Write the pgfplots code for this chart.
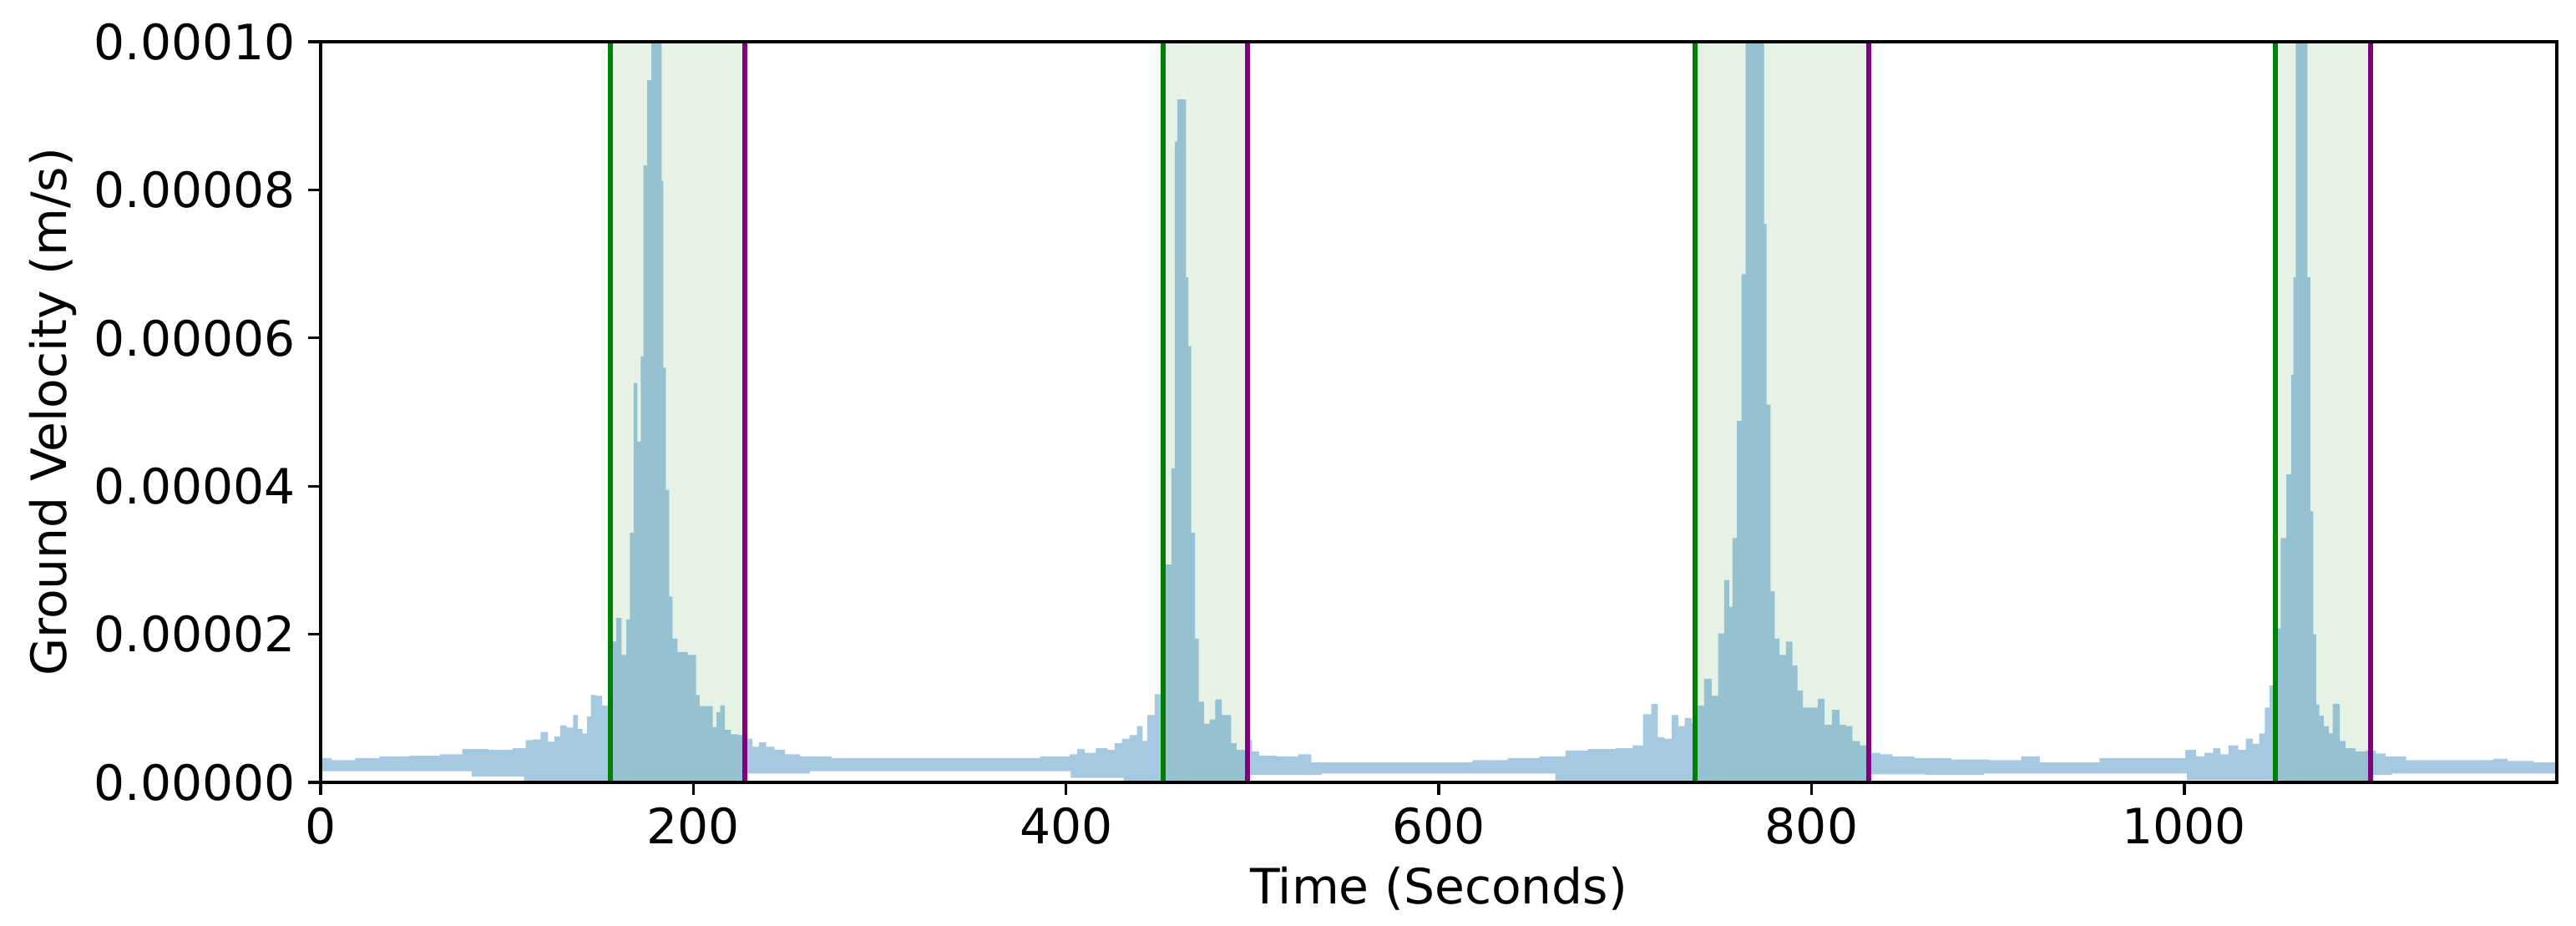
\documentclass[border=0pt]{standalone}
\usepackage{fontspec}
\setmainfont{DejaVu Sans}
\usepackage{pgfplots}
\usepackage{pgfplotstable}
\pgfplotsset{compat=1.18}
\definecolor{tabblue}{RGB}{31,119,180}
\definecolor{mplgreen}{RGB}{0,128,0}
\definecolor{mplpurple}{RGB}{128,0,128}

% Signal envelope (y in units of 1e-6 m/s): upper envelope left->right, then lower envelope right->left
\pgfplotstableread{
x y
0 3.3
12 3.0
25 3.3
38 3.5
58 3.6
70 3.8
82 4.5
98 4.4
108 4.6
112 5.7
116 5.8
120 6.8
124 5.5
127 6.2
130 7.7
134 7.4
137 9.1
139 7.2
142 6.6
144 8.9
146 11.8
150 11.7
152 10.4
155 10.4
157 19.0
160 22.2
163 17.2
165 22.0
167 33.7
169 53.9
171 46.0
172.5 57.5
174 83.3
176.5 94.8
178.5 105
182.5 105
183.4 81.2
184.4 56.0
186 39.5
188 25.1
189.5 19.4
193.5 17.6
200.4 17.2
202.4 11.8
204.4 10.3
209.4 10.3
211.4 7.5
213.5 9.5
215.4 10.4
218.4 7.1
222 6.5
226.4 6.4
228 6.3
230.2 5.9
233.2 4.8
237.2 5.4
241 4.8
246.2 4.4
252.2 3.8
262.2 3.5
286 3.3
312 3.3
352 3.3
372 3.3
400 3.5
404 3.8
408 4.5
412 4.0
420 4.6
424 4.4
428 5.3
432 5.9
436 6.4
440 7.6
442 5.6
445 9.1
450 11.9
452 12.0
455 29.4
458 42.4
458.8 86.5
460.4 92.2
463.8 92.2
464.8 68.2
466.4 58.9
468 33.7
470.3 19.4
472 10.9
476 7.9
478 8.5
482 11.2
485 9.1
488 9.1
489 5.3
494 4.4
497.4 4.3
498.4 5.7
501 4.2
506 3.6
520 3.5
529 3.8
534 2.7
560 2.7
600 2.7
616 2.7
620 3.0
631 3.0
643 3.3
665 3.5
671 4.3
689 4.5
701 4.6
707 5.0
712 9.2
716 10.6
719 6.1
723 5.9
727 9.1
730 7.6
734 8.7
737.4 8.0
740.4 10.4
744.4 14.0
748.4 11.7
751.3 20.1
755 27.3
756.6 23.7
758.7 33.0
761.2 48.8
763.7 68.6
765.5 105
774 105
775.1 75.4
776.7 51.0
779.2 25.8
781.3 19.4
784.4 17.2
788.1 19.0
791.5 15.8
793.4 12.4
797.4 10.1
801.4 10.1
805.4 11.3
808.4 7.8
813.4 9.8
816.4 7.8
820.4 7.6
823.4 5.6
828.4 5.0
830.6 4.8
832.4 4.0
841.4 3.8
845.4 3.5
865 3.3
885 3.1
905 3.0
920 3.5
925 2.7
939 2.7
970 3.3
997 3.3
1004 4.4
1008.5 3.5
1013 4.0
1018 4.6
1020.5 3.8
1027 5.0
1031 4.4
1035 5.9
1038.5 5.2
1042 6.6
1044.5 10.1
1046.8 13.1
1048.8 13.5
1050.5 20.8
1052.9 33.0
1056.6 41.6
1058 55.0
1059.1 68.2
1060.5 105
1065.3 105
1066.9 68.2
1068.4 36.6
1070 20.0
1071.5 10.5
1073.5 9.0
1076.2 7.6
1078.8 6.6
1080.5 10.6
1082.8 10.6
1084 5.6
1089 4.6
1095 4.2
1100.3 4.3
1105.4 3.9
1110.5 3.5
1127.7 3.0
1160 3.0
1172 3.2
1175 2.9
1199.9 2.7
1199.9 1.2
1120 1.2
1103 1.0
1100 0.1
1003 0.3
1000 1.2
939 1.2
895 1.2
890 1.0
832 1.1
830 0.1
737 0.1
665 0.2
660 1.2
540 1.2
534 1.0
500 1.0
497 0.0
432 0.1
430 0.6
405 0.6
400 1.5
265 1.5
260 1.2
230 1.2
228 0.0
155 0.0
110 0.1
108 0.8
82 0.8
80 1.5
0 1.5
}\signal

\begin{document}
\begin{tikzpicture}[font=\fontsize{14}{17}\selectfont]
\begin{axis}[
  at={(0,0)}, anchor=south west,
  scale only axis, width=642.7pt, height=212.9pt,
  xmin=0, xmax=1199.9, ymin=0, ymax=100,
  xtick={0,200,400,600,800,1000},
  ytick={0,20,40,60,80,100},
  yticklabels={0.00000,0.00002,0.00004,0.00006,0.00008,0.00010},
  tick align=outside, major tick length=3.5pt,
  tick pos=left,
  axis on top=true,
  axis line style={line width=0.8pt, black},
  every tick/.style={black, line width=0.8pt},
  /pgf/number format/1000 sep={},
  /pgf/number format/assume math mode=true,
  every tick label/.append style={inner sep=0pt},
  xticklabel shift=3.5pt, yticklabel shift=3.5pt,
  xlabel={Time (Seconds)}, ylabel={Ground Velocity (m/s)},
  every axis x label/.style={at={(axis description cs:0.5,-0.1644)}, anchor=base},
  every axis y label/.style={at={(axis description cs:-0.1136,0.5)}, anchor=base, rotate=90},
]
% shaded event windows
\addplot[draw=none, fill=mplgreen, fill opacity=0.1] coordinates {(155.5,0) (227.6,0) (227.6,100) (155.5,100)};
\addplot[draw=none, fill=mplgreen, fill opacity=0.1] coordinates {(452.2,0) (497.4,0) (497.4,100) (452.2,100)};
\addplot[draw=none, fill=mplgreen, fill opacity=0.1] coordinates {(737.4,0) (830.6,0) (830.6,100) (737.4,100)};
\addplot[draw=none, fill=mplgreen, fill opacity=0.1] coordinates {(1048.8,0) (1100.1,0) (1100.1,100) (1048.8,100)};
% signal
\addplot[const plot mark mid, draw=none, fill=tabblue, fill opacity=0.4] table[x=x, y=y] {\signal};
% window boundaries
\addplot[mplgreen, line width=1.4pt] coordinates {(155.5,0) (155.5,100)};
\addplot[mplgreen, line width=1.4pt] coordinates {(452.2,0) (452.2,100)};
\addplot[mplgreen, line width=1.4pt] coordinates {(737.4,0) (737.4,100)};
\addplot[mplgreen, line width=1.4pt] coordinates {(1048.8,0) (1048.8,100)};
\addplot[mplpurple, line width=1.4pt] coordinates {(227.6,0) (227.6,100)};
\addplot[mplpurple, line width=1.4pt] coordinates {(497.4,0) (497.4,100)};
\addplot[mplpurple, line width=1.4pt] coordinates {(830.6,0) (830.6,100)};
\addplot[mplpurple, line width=1.4pt] coordinates {(1100.1,0) (1100.1,100)};
\end{axis}
\pgfresetboundingbox
\useasboundingbox (-92.16pt,-41.04pt) rectangle (648.22pt,224.88pt);
\end{tikzpicture}
\end{document}
